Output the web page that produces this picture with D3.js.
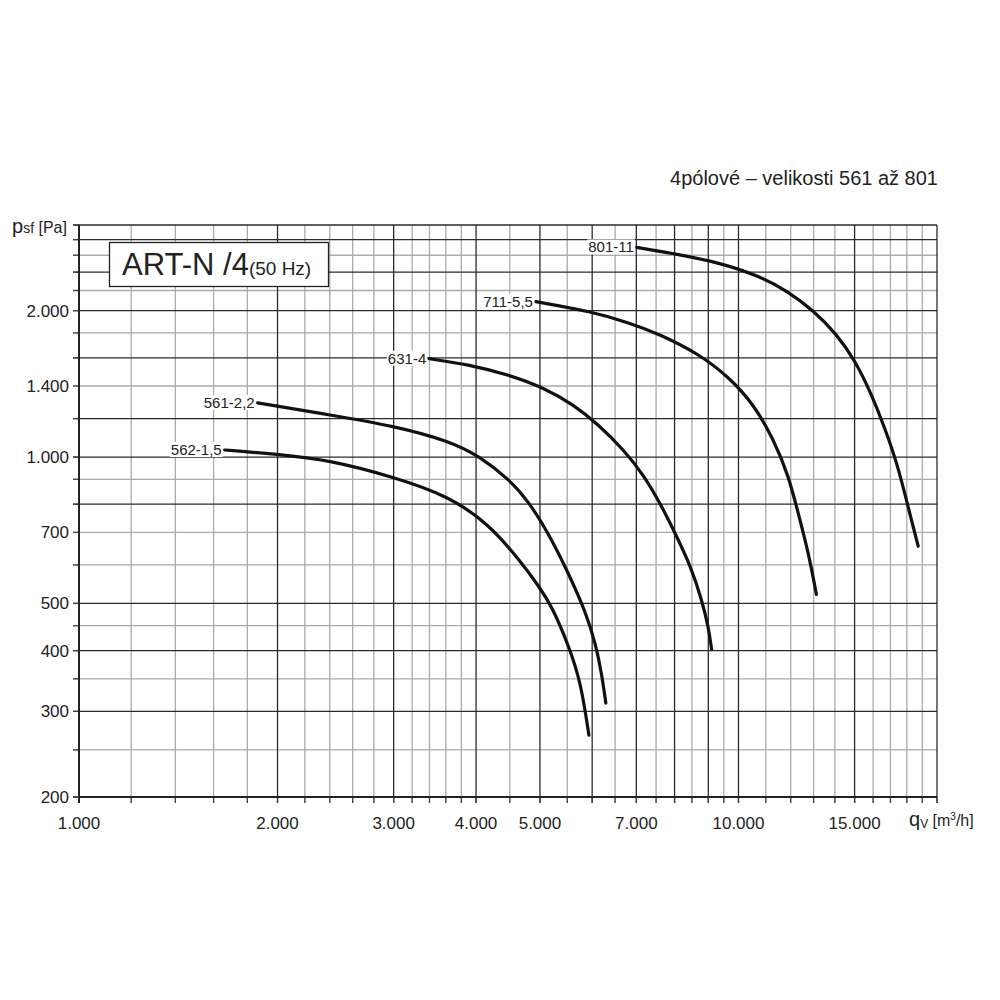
<!DOCTYPE html>
<html><head><meta charset="utf-8">
<script src="https://cdn.jsdelivr.net/npm/d3@7/dist/d3.min.js"></script>
<style>
html,body{margin:0;padding:0;background:#fff;}
text{font-family:"Liberation Sans",Arial,Helvetica,sans-serif;fill:#222;}
</style></head>
<body>
<svg id="chart" width="1000" height="1000"></svg>
<script>
// ---- data ----
const xDomain = [1000, 20000];
const yDomain = [200, 3000];
const xTickValues = [1000, 2000, 3000, 4000, 5000, 7000, 10000, 15000];
const xTickLabels = ["1.000", "2.000", "3.000", "4.000", "5.000", "7.000", "10.000", "15.000"];
const yTickValues = [200, 300, 400, 500, 700, 1000, 1400, 2000];
const yTickLabels = ["200", "300", "400", "500", "700", "1.000", "1.400", "2.000"];
const xGridMajor = [1000, 2000, 3000, 4000, 5000, 6000, 7000, 8000, 9000, 10000, 15000, 20000];
const xGridMinor = [1200, 1400, 1600, 1800, 2200, 2400, 2600, 2800, 3200, 3400, 3600, 3800,
                    4500, 5500, 6500, 7500, 8500, 9500, 11000, 12000, 13000, 14000, 16000, 17000, 18000, 19000];
const yGridMajor = [200, 300, 400, 500, 800, 1000, 1200, 1600, 2000, 2400, 2800, 3000];
const yGridMinor = [250, 350, 450, 600, 700, 900, 1400, 1800, 2200, 2600];

const seriesNames = ["562-1,5", "561-2,2", "631-4", "711-5,5", "801-11"];
const q562 = [1663, 1993, 2399, 3007, 3641, 4186, 4647, 4984, 5215, 5533, 5768, 5932];
const p562 = [1034, 1014, 986, 909, 831, 727, 616, 542, 493, 408, 344, 268];
const q561 = [1866, 2399, 3007, 3641, 4044, 4488, 4814, 5160, 5533, 5870, 6077, 6205, 6293];
const p561 = [1292, 1221, 1159, 1079, 1005, 901, 808, 694, 574, 479, 412, 357, 312];
const q631 = [3397, 3905, 4488, 5072, 5629, 6140, 6700, 7185, 7623, 8059, 8464, 8793, 9009, 9105];
const p631 = [1593, 1548, 1476, 1388, 1280, 1164, 1034, 918, 800, 687, 596, 510, 446, 402];
const q711 = [4931, 5993, 6818, 7569, 8701, 9661, 10539, 11298, 11905, 12329, 12764, 13126];
const p711 = [2087, 1991, 1889, 1793, 1631, 1462, 1286, 1089, 918, 763, 637, 522];
const q801 = [7012, 8116, 9329, 10724, 11905, 12990, 14073, 15035, 15900, 16692, 17408, 17963, 18280, 18728];
const p801 = [2698, 2610, 2512, 2361, 2189, 2000, 1793, 1578, 1349, 1142, 967, 819, 745, 656];

const titleText = "4pólové – velikosti 561 až 801";

// ---- drawing ----
const svg = d3.select("#chart");
const x = d3.scaleLog().domain(xDomain).range([79, 937]);
const y = d3.scaleLog().domain(yDomain).range([797, 225]);

const gGrid = svg.append("g");
gGrid.selectAll("line.vmin").data(xGridMinor).join("line")
  .attr("x1", d => x(d)).attr("x2", d => x(d)).attr("y1", y(yDomain[0]) + 6).attr("y2", y(yDomain[1]))
  .attr("stroke", "#ababab").attr("stroke-width", 1.3);
gGrid.selectAll("line.hmin").data(yGridMinor).join("line")
  .attr("y1", d => y(d)).attr("y2", d => y(d)).attr("x1", x(xDomain[0]) - 6).attr("x2", x(xDomain[1]))
  .attr("stroke", "#ababab").attr("stroke-width", 1.3);
gGrid.selectAll("line.vmaj").data(xGridMajor).join("line")
  .attr("x1", d => x(d)).attr("x2", d => x(d)).attr("y1", y(yDomain[0]) + 6).attr("y2", y(yDomain[1]))
  .attr("stroke", "#2a2a2a").attr("stroke-width", 1.3);
gGrid.selectAll("line.hmaj").data(yGridMajor).join("line")
  .attr("y1", d => y(d)).attr("y2", d => y(d)).attr("x1", x(xDomain[0]) - 6).attr("x2", x(xDomain[1]))
  .attr("stroke", "#2a2a2a").attr("stroke-width", 1.3);
gGrid.selectAll("line.vt").data(xGridMajor.concat(xGridMinor)).join("line")
  .attr("x1", d => x(d)).attr("x2", d => x(d)).attr("y1", y(yDomain[0])).attr("y2", y(yDomain[0]) + 6)
  .attr("stroke", "#444").attr("stroke-width", 1.3);
gGrid.selectAll("line.ht").data(yGridMajor.concat(yGridMinor)).join("line")
  .attr("y1", d => y(d)).attr("y2", d => y(d)).attr("x1", x(xDomain[0]) - 6).attr("x2", x(xDomain[0]))
  .attr("stroke", "#444").attr("stroke-width", 1.3);
svg.append("line").attr("x1", x(xDomain[0])).attr("x2", x(xDomain[0])).attr("y1", y(yDomain[0]) + 6).attr("y2", y(yDomain[1]))
  .attr("stroke", "#222").attr("stroke-width", 2);
svg.append("line").attr("x1", x(xDomain[0])).attr("x2", x(xDomain[1])).attr("y1", y(yDomain[0])).attr("y2", y(yDomain[0]))
  .attr("stroke", "#222").attr("stroke-width", 2);

// tick labels
svg.selectAll("text.xt").data(xTickValues).join("text")
  .attr("x", d => x(d)).attr("y", 829).attr("text-anchor", "middle")
  .attr("font-size", 17).text((d, i) => xTickLabels[i]);
svg.selectAll("text.yt").data(yTickValues).join("text")
  .attr("x", 69).attr("y", d => y(d) + 6).attr("text-anchor", "end")
  .attr("font-size", 17).text((d, i) => yTickLabels[i]);

// axis titles
const yt = svg.append("text").attr("x", 12).attr("y", 233);
yt.append("tspan").attr("font-size", 20).text("p");
yt.append("tspan").attr("font-size", 14).text("sf");
yt.append("tspan").attr("font-size", 16).text(" [Pa]");
const xtit = svg.append("text").attr("x", 909).attr("y", 826);
xtit.append("tspan").attr("font-size", 20).text("q");
xtit.append("tspan").attr("font-size", 12).attr("dy", 2).text("V");
xtit.append("tspan").attr("font-size", 16).attr("dy", -2).text(" [m");
xtit.append("tspan").attr("font-size", 10).attr("dy", -6).text("3");
xtit.append("tspan").attr("font-size", 16).attr("dy", 6).text("/h]");

// title
svg.append("text").attr("x", 938).attr("y", 185).attr("text-anchor", "end")
  .attr("font-size", 20).text(titleText);

// curves
const series = [
  {name: seriesNames[0], q: q562, p: p562},
  {name: seriesNames[1], q: q561, p: p561},
  {name: seriesNames[2], q: q631, p: p631},
  {name: seriesNames[3], q: q711, p: p711},
  {name: seriesNames[4], q: q801, p: p801}
];
const line = d3.line().x(d => x(d[0])).y(d => y(d[1])).curve(d3.curveBasis);

const gLab = svg.append("g");
series.forEach(s => {
  const x0 = x(s.q[0]) - 3, y0 = y(s.p[0]);
  const t = gLab.append("text").attr("x", x0).attr("y", y0 + 5).attr("text-anchor", "end")
    .attr("font-size", 15).text(s.name);
  const bb = t.node().getBBox();
  gLab.insert("rect", "text").attr("x", bb.x - 1).attr("y", bb.y + 1).attr("width", bb.width + 2).attr("height", bb.height - 2)
    .attr("fill", "#fff");
});
svg.append("g").selectAll("path").data(series).join("path")
  .attr("d", s => line(s.q.map((q, i) => [q, s.p[i]])))
  .attr("fill", "none").attr("stroke", "#111").attr("stroke-width", 3.2)
  .attr("stroke-linecap", "round").attr("stroke-linejoin", "round");

// legend box
svg.append("rect").attr("x", 109.5).attr("y", 242.5).attr("width", 219).attr("height", 44)
  .attr("fill", "#fff").attr("stroke", "#222").attr("stroke-width", 1.3);
const lt = svg.append("text").attr("x", 122).attr("y", 275);
lt.append("tspan").attr("font-size", 31).text("ART-N /4");
lt.append("tspan").attr("font-size", 19).text("(50 Hz)");
</script>
</body></html>
